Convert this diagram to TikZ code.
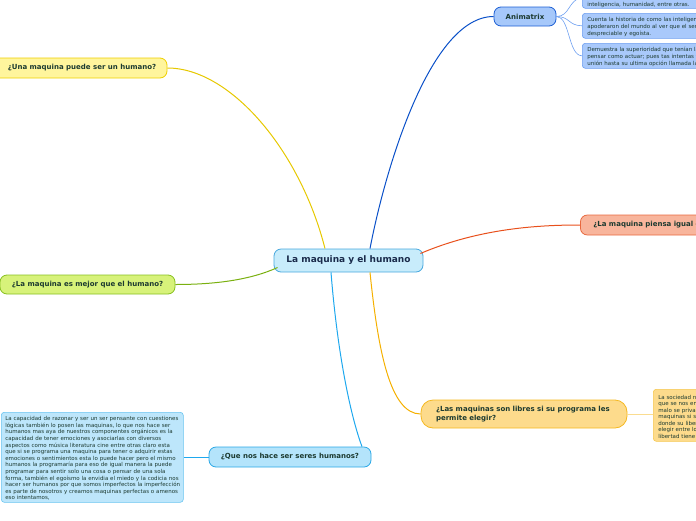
\documentclass[tikz,border=0pt]{standalone}
\usepackage{fontspec}
\setmainfont{DejaVu Sans}
\usetikzlibrary{calc}
\definecolor{txt}{HTML}{1C3A30}
\definecolor{ctxt}{HTML}{1A2B4B}
\definecolor{cfill}{HTML}{C8ECFB}\definecolor{cdraw}{HTML}{48A8DE}
\definecolor{afill}{HTML}{A6C8FA}\definecolor{adraw}{HTML}{1C5FD4}\definecolor{aline}{HTML}{0A50C8}
\definecolor{kfill}{HTML}{A9C9FB}\definecolor{kdraw}{HTML}{6D9FF0}
\definecolor{yfill}{HTML}{FFF59D}\definecolor{ydraw}{HTML}{EED000}\definecolor{yline}{HTML}{E6C800}
\definecolor{gfill}{HTML}{D7F27A}\definecolor{gdraw}{HTML}{88C020}\definecolor{gline}{HTML}{7AB010}
\definecolor{sfill}{HTML}{F8B59C}\definecolor{sdraw}{HTML}{E86A40}\definecolor{sline}{HTML}{E8501C}
\definecolor{ofill}{HTML}{FDDB8C}\definecolor{odraw}{HTML}{F5B820}\definecolor{oline}{HTML}{F5B000}
\definecolor{rdraw}{HTML}{F5C850}
\definecolor{bfill}{HTML}{B4E4FB}\definecolor{bdraw}{HTML}{2AA8E6}\definecolor{bline}{HTML}{1EA8EE}
\definecolor{lfill}{HTML}{BDE6FB}\definecolor{ldraw}{HTML}{68C4F0}
\tikzset{
  topic/.style={rounded corners=7pt, line width=0.8pt, inner sep=0pt, font=\fontsize{7}{8.5}\selectfont\bfseries, text=txt},
  note/.style={rounded corners=3pt, line width=0.6pt, inner sep=0pt, anchor=north west, align=left, font=\fontsize{5.5}{6.6}\selectfont, text=txt},
  conn/.style={line width=1pt},
  thin/.style={line width=0.6pt}
}
\begin{document}
\begin{tikzpicture}[x=1pt,y=-1pt]
\useasboundingbox (0,0) rectangle (696,520);
\clip (0,0) rectangle (696,520);
% central
\node[topic, fill=cfill, draw=cdraw, minimum width=149pt, minimum height=23pt, font=\fontsize{9}{10}\selectfont\bfseries, text=ctxt] (c) at (348.5,260.5) {La maquina y el humano};
% Animatrix
\node[topic, fill=afill, draw=adraw, minimum width=62pt, minimum height=19pt] (a) at (525,16.5) {Animatrix};
\node[note, fill=kfill, draw=kdraw, minimum width=180pt, minimum height=22pt, text width=176pt] (k1) at (582,-14) {\rule{0pt}{19pt}\hspace*{3pt}inteligencia, humanidad, entre otras.};
\node[note, fill=kfill, draw=kdraw, minimum width=180pt, minimum height=25pt, text width=176pt, font=\fontsize{5.5}{7}\selectfont] (k2) at (582,13) {\rule{0pt}{7.5pt}\hspace*{3pt}Cuenta la historia de como las inteligencias artificiales se\\\hspace*{3pt}apoderaron del mundo al ver que el ser humano era\\\hspace*{3pt}despreciable y egoísta.};
\node[note, fill=kfill, draw=kdraw, minimum width=180pt, minimum height=25pt, text width=176pt, font=\fontsize{5.5}{7}\selectfont] (k3) at (582,43) {\rule{0pt}{7.5pt}\hspace*{3pt}Demuestra la superioridad que tenían las maquinas al\\\hspace*{3pt}pensar como actuar; pues tas intentas fallidas de\\\hspace*{3pt}unión hasta su ultima opción llamada la guerra.};
% yellow
\node[topic, fill=yfill, draw=ydraw, minimum width=175pt, minimum height=20pt] (y) at (79.5,68) {\hspace*{5pt}¿Una maquina puede ser un humano?};
% green
\node[topic, fill=gfill, draw=gdraw, minimum width=175pt, minimum height=19pt] (g) at (87.5,284.5) {¿La maquina es mejor que el humano?};
% salmon
\node[topic, fill=sfill, draw=sdraw, minimum width=200pt, minimum height=20pt, anchor=west, text width=190pt, align=left] (s) at (580,225) {\hspace*{8pt}¿La maquina piensa igual que el humano?};
% orange
\node[topic, fill=ofill, draw=odraw, minimum width=206pt, minimum height=28pt, rounded corners=12pt, text width=176pt, align=left] (o) at (524,414) {¿Las maquinas son libres si su programa les\\permite elegir?};
\node[note, fill=ofill, draw=rdraw, minimum width=120pt, minimum height=52pt, text width=116pt, font=\fontsize{5.5}{6.5}\selectfont] (r) at (653,389) {\rule{0pt}{7pt}\hspace*{3pt}La sociedad nos dice\\\hspace*{3pt}que se nos enseña\\\hspace*{3pt}malo se priva de\\\hspace*{3pt}maquinas si su\\\hspace*{3pt}donde su libertad\\\hspace*{3pt}elegir entre lo\\\hspace*{3pt}libertad tiene};
% light blue
\node[topic, fill=bfill, draw=bdraw, minimum width=162pt, minimum height=20pt] (b) at (290,457) {¿Que nos hace ser seres humanos?};
\node[note, fill=lfill, draw=ldraw, minimum width=182pt, minimum height=90pt, text width=180pt] (l) at (1,412) {\rule{0pt}{6.5pt}\hspace*{3pt}La capacidad de razonar y ser un ser pensante con cuestiones\\
\hspace*{3pt}lógicas también lo posen las maquinas, lo que nos hace ser\\
\hspace*{3pt}humanos mas aya de nuestros componentes orgánicos es la\\
\hspace*{3pt}capacidad de tener emociones y asociarlas con diversos\\
\hspace*{3pt}aspectos como música literatura cine entre otras claro esta\\
\hspace*{3pt}que si se programa una maquina para tener o adquirir estas\\
\hspace*{3pt}emociones o sentimientos esta lo puede hacer pero el mismo\\
\hspace*{3pt}humanos la programaría para eso de igual manera la puede\\
\hspace*{3pt}programar para sentir solo una cosa o pensar de una sola\\
\hspace*{3pt}forma, también el egoísmo la envidia el miedo y la codicia nos\\
\hspace*{3pt}hacer ser humanos por que somos imperfectos la imperfección\\
\hspace*{3pt}es parte de nosotros y creamos maquinas perfectas o amenos\\
\hspace*{3pt}eso intentamos,};
% connectors
\draw[conn, aline] ($(c.north)+(21.5,0)$) .. controls (385,170) and (430,16.5) .. (a.west);
\draw[conn, yline] ($(c.north)+(-23.5,0)$) .. controls (300,150) and (230,68) .. (y.east);
\draw[conn, gline] ($(c.west)+(4,7)$) .. controls (250,280) and (215,284.5) .. (g.east);
\draw[conn, sline] ($(c.east)+(-3,-7)$) .. controls (480,228) and (540,225) .. (s.west);
\draw[conn, oline] ($(c.south)+(21.5,0)$) .. controls (378,350) and (390,414) .. (o.west);
\draw[conn, bline] ($(c.south)+(-17.5,0)$) .. controls (338,360) and (352,420) .. ($(b.north)+(72,0)$);
\draw[thin, bline] (b.west) -- (l.east |- b.west);
\draw[thin, odraw!50] (o.east) -- (r.west |- o.east);
\draw[thin, kdraw] (a.east) .. controls (570,16.5) and (568,0) .. (k1.east -| k1.west);
\draw[thin, kdraw] (a.east) .. controls (570,16.5) and (568,25.5) .. (k2.west);
\draw[thin, kdraw] (a.east) .. controls (570,16.5) and (568,55.5) .. (k3.west);
\end{tikzpicture}
\end{document}
